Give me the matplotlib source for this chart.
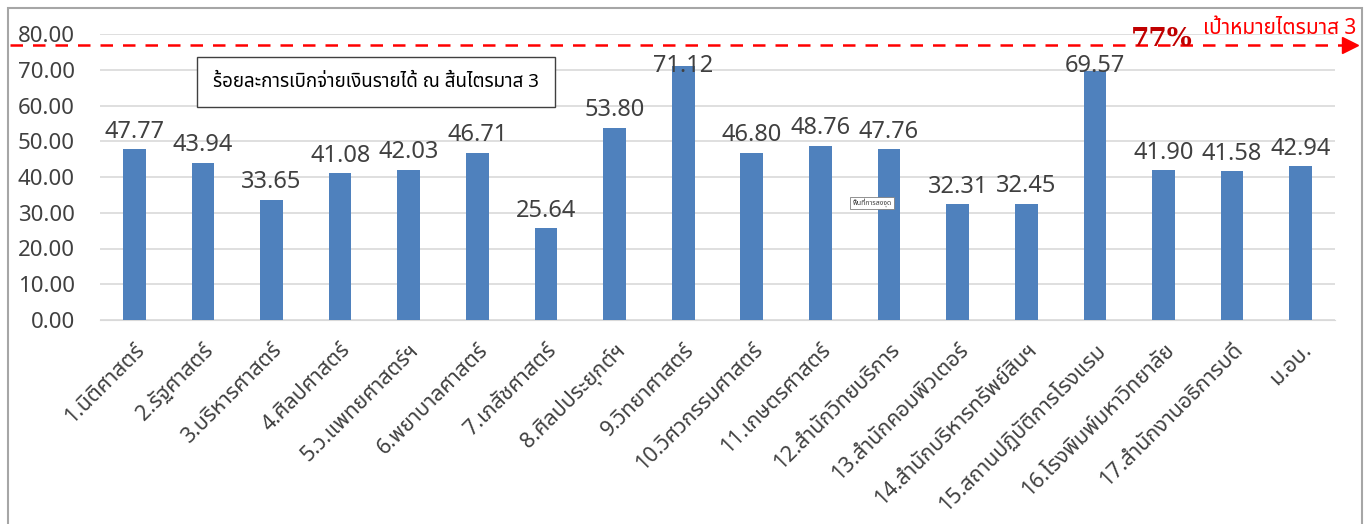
import matplotlib
matplotlib.use("Agg")
import matplotlib.pyplot as plt
import matplotlib.font_manager as fm
import matplotlib.transforms as mtransforms
from matplotlib.ft2font import FT2Font
from matplotlib.patches import Rectangle
import numpy as np

# data
units = ["1.นิติศาสตร์", "2.รัฐศาสตร์", "3.บริหารศาสตร์", "4.ศิลปศาสตร์",
         "5.ว.แพทยศาสตร์ฯ", "6.พยาบาลศาสตร์", "7.เภสัชศาสตร์", "8.ศิลปประยุกต์ฯ",
         "9.วิทยาศาสตร์", "10.วิศวกรรมศาสตร์", "11.เกษตรศาสตร์", "12.สำนักวิทยบริการ",
         "13.สำนักคอมพิวเตอร์", "14.สำนักบริหารทรัพย์สินฯ", "15.สถานปฏิบัติการโรงแรม",
         "16.โรงพิมพ์มหาวิทยาลัย", "17.สำนักงานอธิการบดี", "ม.อบ."]
percent = [47.77, 43.94, 33.65, 41.08, 42.03, 46.71, 25.64, 53.80, 71.12,
           46.80, 48.76, 47.76, 32.31, 32.45, 69.57, 41.90, 41.58, 42.94]
yticks = [0, 10, 20, 30, 40, 50, 60, 70, 80]
target = 77
title = "ร้อยละการเบิกจ่ายเงินรายได้ ณ สิ้นไตรมาส 3"
target_label = "เป้าหมายไตรมาส 3"


# find a font with thai glyphs
def thai_font():
    names = []
    for f in fm.fontManager.ttflist:
        try:
            if 0x0E01 in FT2Font(f.fname).get_charmap():
                names.append(f.name)
        except Exception:
            pass
    for pref in ["Tahoma", "Noto Sans Thai", "Loma", "Garuda", "Noto Sans Thai UI", "Laksaman"]:
        if pref in names:
            return pref
    return names[0] if names else "DejaVu Sans"


th = thai_font()
plt.rcParams['font.family'] = [th, 'DejaVu Sans']

fig = plt.figure(figsize=(13.7, 5.24), dpi=100)
ax = fig.add_axes([100 / 1370, 1 - 320 / 524, 1235 / 1370, 286 / 524])

# outer chart border
fig.patches.append(Rectangle((8 / 1370, -0.1), 1354 / 1370, 1.1 - 8 / 524,
                             transform=fig.transFigure, fill=False,
                             edgecolor='#a6a6a6', lw=1.5))

x = np.arange(len(units))
ax.bar(x, percent, width=0.33, color='#4f81bd', zorder=3)
# labels of the tallest bars get pushed down (like excel keeps them inside the plot area)
for xi, v in zip(x, percent):
    ax.annotate(f"{v:.2f}", (xi, min(v, 66)), xytext=(0, 4), textcoords='offset points',
                ha='center', va='bottom', fontsize=17, color='#404040', zorder=4)

ax.set_xlim(-0.5, len(units) - 0.5)
ax.set_ylim(0, 80)
ax.set_yticks(yticks)
ax.set_yticklabels([f"{t:.2f}" for t in yticks], fontsize=16, color='#404040')
ax.set_xticks(x)
ax.set_xticklabels(units, rotation=45, ha='right', rotation_mode='anchor',
                   fontsize=15.5, color='#404040')
ax.tick_params(axis='x', length=0, pad=14)
ax.tick_params(axis='y', length=0, pad=18)
ax.grid(axis='y', color='#d9d9d9', lw=1.2, zorder=0)
for s in ['top', 'right', 'left']:
    ax.spines[s].set_visible(False)
ax.spines['bottom'].set_color('#d9d9d9')

# target line with arrow
tr = mtransforms.blended_transform_factory(fig.transFigure, ax.transData)
ax.plot([10 / 1370, 1348 / 1370], [target, target], transform=tr, color='#ff0000',
        ls=(0, (5, 4)), lw=1.8, clip_on=False, zorder=5)
ax.plot([1350 / 1370], [target], transform=tr, marker='>', markersize=11,
        color='#ff0000', clip_on=False, zorder=5)
fig.text(1162 / 1370, 1 - 38 / 524, f"{target}%", ha='center', va='center',
         fontsize=19, fontweight='bold', color='#c00000', family='DejaVu Serif')
fig.text(1280 / 1370, 1 - 29 / 524, target_label, ha='center', va='center',
         fontsize=15, color='#ff0000')

# title box
fig.text(376 / 1370, 1 - 82 / 524, title, ha='center', va='center', fontsize=13.5,
         color='black',
         bbox=dict(boxstyle='square,pad=0.85', fc='white', ec='#404040', lw=1))

# small plot-area tooltip
fig.text(872 / 1370, 1 - 203 / 524, "พื้นที่การลงจุด", ha='center', va='center',
         fontsize=5, color='#404040',
         bbox=dict(boxstyle='square,pad=0.3', fc='white', ec='#808080', lw=0.6))

fig.savefig('out.png', dpi=100)
